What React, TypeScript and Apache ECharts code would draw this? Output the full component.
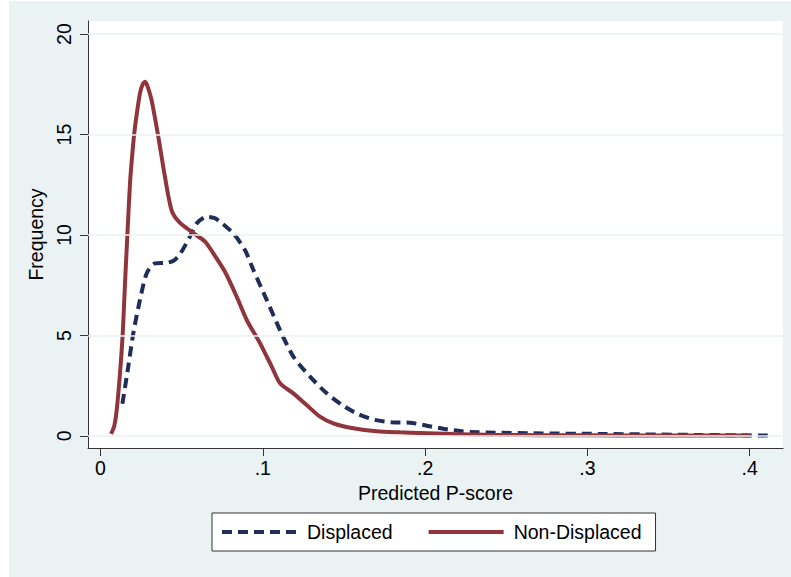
import React, { useEffect, useRef } from "react";
import * as echarts from "echarts";

const xTicks = [0, 0.1, 0.2, 0.3, 0.4];
const yTicks = [0, 5, 10, 15, 20];

const displacedX = [0.0135, 0.0171, 0.0202, 0.0243, 0.0285, 0.0336, 0.0408, 0.045, 0.049, 0.0551, 0.0593, 0.0654, 0.07, 0.0736, 0.0818, 0.089, 0.0942, 0.1024, 0.1106, 0.1188, 0.1291, 0.1394, 0.1496, 0.1589, 0.1691, 0.1794, 0.1907, 0.201, 0.2112, 0.2225, 0.2328, 0.243, 0.2667, 0.3077, 0.369, 0.4115];
const displacedY = [1.6, 3.45, 5.1, 6.77, 8.1, 8.59, 8.62, 8.72, 9.05, 9.92, 10.58, 10.91, 10.85, 10.66, 10.08, 9.25, 8.26, 6.77, 5.27, 3.95, 2.95, 2.12, 1.5, 1.08, 0.8, 0.68, 0.66, 0.51, 0.36, 0.23, 0.18, 0.16, 0.13, 0.1, 0.05, 0.02];

const nonDisplacedX = [0.0065, 0.0085, 0.01, 0.012, 0.0137, 0.0151, 0.0165, 0.0182, 0.02, 0.0213, 0.0243, 0.026, 0.0274, 0.029, 0.0315, 0.0356, 0.0397, 0.0439, 0.049, 0.0572, 0.0644, 0.0695, 0.0767, 0.0839, 0.0901, 0.0983, 0.1055, 0.1106, 0.1188, 0.127, 0.1352, 0.1434, 0.1558, 0.1702, 0.1845, 0.1969, 0.2174, 0.238, 0.27, 0.3, 0.34, 0.37, 0.4];
const nonDisplacedY = [0.1, 0.5, 1.3, 3.1, 5.1, 7.6, 9.9, 12.6, 14.4, 15.4, 17.05, 17.5, 17.63, 17.4, 16.7, 14.9, 12.9, 11.2, 10.6, 10.1, 9.67, 9.09, 8.17, 6.93, 5.77, 4.61, 3.45, 2.62, 2.12, 1.54, 0.96, 0.63, 0.38, 0.23, 0.18, 0.15, 0.1, 0.06, 0.04, 0.03, 0.02, 0.02, 0.02];

const NAVY = "#1E2D5A";
const MAROON = "#90353B";
const BG = "#EAF2F3";
const FONT = "'Liberation Sans', Arial, sans-serif";

export default function App() {
  const ref = useRef<HTMLDivElement>(null);
  useEffect(() => {
    if (!ref.current) return;
    const chart = echarts.init(ref.current, undefined, { renderer: "svg" });
    const pairs = (xs: number[], ys: number[]) => xs.map((x, i) => [x, ys[i]]);
    const fmt = (v: number) => (v === 0 ? "0" : String(v).replace(/^0/, ""));
    chart.setOption({
      animation: false,
      backgroundColor: BG,
      textStyle: { fontFamily: FONT },
      grid: {
        left: 79,
        top: 20,
        right: 8,
        bottom: 129,
        show: true,
        backgroundColor: "#ffffff",
        borderWidth: 0,
      },
      xAxis: {
        type: "value",
        min: -0.0077,
        max: 0.4205,
        name: "Predicted P-score",
        nameLocation: "middle",
        nameGap: 32,
        nameTextStyle: { fontSize: 19.5, color: "#000", fontFamily: FONT },
        axisLine: { show: true, onZero: false, lineStyle: { color: "#333", width: 1 } },
        axisTick: { show: true, length: 8, customValues: xTicks, lineStyle: { color: "#333" } },
        axisLabel: { customValues: xTicks, formatter: fmt, fontSize: 19.5, color: "#000", margin: 10, fontFamily: FONT },
        splitLine: { show: false },
      },
      yAxis: {
        type: "value",
        min: -0.6,
        max: 20.65,
        name: "Frequency",
        nameLocation: "middle",
        nameGap: 38,
        nameRotate: 90,
        nameTextStyle: { fontSize: 19.5, color: "#000", fontFamily: FONT },
        axisLine: { show: true, onZero: false, lineStyle: { color: "#333", width: 1 } },
        axisTick: { show: true, length: 8, customValues: yTicks, lineStyle: { color: "#333" } },
        axisLabel: { customValues: yTicks, rotate: 90, fontSize: 19.5, color: "#000", margin: 14, fontFamily: FONT },
        splitLine: { show: false },
      },
      legend: {
        left: 203,
        top: 512,
        orient: "horizontal",
        backgroundColor: "#ffffff",
        borderColor: "#333",
        borderWidth: 1,
        borderRadius: 0,
        padding: [8, 14, 8, 8],
        itemWidth: 75,
        itemHeight: 20,
        itemGap: 34,
        itemStyle: { opacity: 0, borderWidth: 0 },
        lineStyle: { width: 4 },
        textStyle: { fontSize: 19.5, color: "#000", fontFamily: FONT, lineHeight: 22, padding: [0, 0, 0, 5] },
        data: ["Displaced", "Non-Displaced"],
      },
      series: [
        {
          type: "line",
          name: "grid",
          data: [],
          silent: true,
          z: 1,
          markLine: {
            silent: true,
            symbol: "none",
            label: { show: false },
            lineStyle: { color: BG, width: 1.5, type: "solid" },
            data: yTicks.map((v) => ({ yAxis: v })),
          },
        },
        {
          type: "line",
          name: "Displaced",
          data: pairs(displacedX, displacedY),
          showSymbol: false,
          symbol: "none",
          smooth: 0.25,
          z: 3,
          lineStyle: { color: NAVY, width: 4, type: [10, 6] },
          itemStyle: { color: NAVY },
        },
        {
          type: "line",
          name: "Non-Displaced",
          data: pairs(nonDisplacedX, nonDisplacedY),
          showSymbol: false,
          symbol: "none",
          smooth: 0.25,
          z: 4,
          lineStyle: { color: MAROON, width: 4, type: "solid" },
          itemStyle: { color: MAROON },
        },
      ],
    });
    return () => chart.dispose();
  }, []);
  return (
    <div
      ref={ref}
      style={{ position: "fixed", left: 9, top: 1, width: 782, height: 576 }}
    />
  );
}
